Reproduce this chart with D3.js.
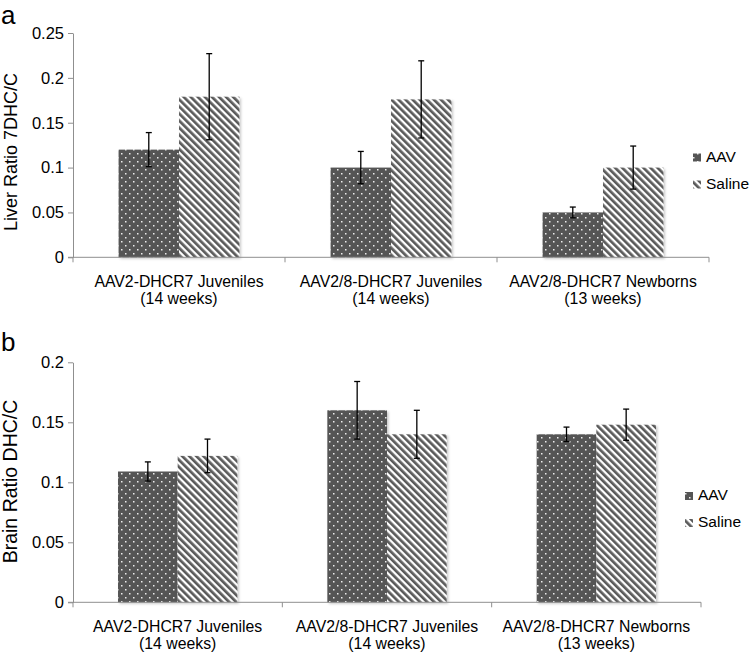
<!DOCTYPE html>
<html><head><meta charset="utf-8">
<script src="https://cdn.jsdelivr.net/npm/d3@7"></script>
<style>
html,body{margin:0;padding:0;background:#fff;}
text{font-family:"Liberation Sans",Arial,Helvetica,sans-serif;fill:#000;}
</style></head>
<body>
<svg id="chart" width="756" height="657"></svg>
<script>
const categories = ["AAV2-DHCR7 Juveniles","AAV2/8-DHCR7 Juveniles","AAV2/8-DHCR7 Newborns"];
const categorySub = ["(14 weeks)","(14 weeks)","(13 weeks)"];
const series = ["AAV","Saline"];

const liverAAV = [0.120, 0.100, 0.050];
const liverAAVErr = [0.019, 0.018, 0.006];
const liverSaline = [0.179, 0.176, 0.100];
const liverSalineErr = [0.048, 0.043, 0.024];

const brainAAV = [0.109, 0.160, 0.140];
const brainAAVErr = [0.008, 0.024, 0.006];
const brainSaline = [0.122, 0.140, 0.148];
const brainSalineErr = [0.014, 0.020, 0.013];

const liverTicks = [0, 0.05, 0.1, 0.15, 0.2, 0.25];
const brainTicks = [0, 0.05, 0.1, 0.15, 0.2];

const svg = d3.select("#chart");
const defs = svg.append("defs");

// dotted pattern (AAV)
const pd = defs.append("pattern").attr("id","dots").attr("patternUnits","userSpaceOnUse")
  .attr("width",8).attr("height",8);
pd.append("rect").attr("width",8).attr("height",8).attr("fill","#555555");
pd.append("rect").attr("x",1).attr("y",1).attr("width",1.5).attr("height",1.5).attr("fill","#ececec");
pd.append("rect").attr("x",5).attr("y",5).attr("width",1.5).attr("height",1.5).attr("fill","#ececec");

// diagonal stripes (Saline)
const ps = defs.append("pattern").attr("id","stripes").attr("patternUnits","userSpaceOnUse")
  .attr("width",5).attr("height",10).attr("patternTransform","rotate(-45)");
ps.append("rect").attr("width",5).attr("height",10).attr("fill","#ffffff");
ps.append("rect").attr("width",2.7).attr("height",10).attr("fill","#5a5a5a");

const f = defs.append("filter").attr("id","shadow").attr("x","-10%").attr("y","-10%").attr("width","130%").attr("height","130%");
f.append("feDropShadow").attr("dx",1.5).attr("dy",1.5).attr("stdDeviation",1).attr("flood-color","#000").attr("flood-opacity",0.22);

const fills = {AAV:"url(#dots)", Saline:"url(#stripes)"};

function panel(cfg){
  const g = svg.append("g");
  const x0 = d3.scaleBand().domain(categories).range([cfg.left, cfg.right]).paddingInner(0.43).paddingOuter(0.215);
  const x1 = d3.scaleBand().domain(series).range([0, x0.bandwidth()]);
  const y = d3.scaleLinear().domain(cfg.domain).range([cfg.bottom, cfg.top]);

  const rows = categories.map((c,i)=>({cat:c, vals:[
    {s:"AAV", v:cfg.aav[i], e:cfg.aavErr[i]},
    {s:"Saline", v:cfg.sal[i], e:cfg.salErr[i]}]}));

  // bars
  const bg = g.append("g").attr("filter","url(#shadow)");
  rows.forEach(r=>{
    r.vals.forEach(d=>{
      bg.append("rect").attr("x",x0(r.cat)+x1(d.s)).attr("y",y(d.v))
        .attr("width",x1.bandwidth()).attr("height",y(0)-y(d.v)).attr("fill",fills[d.s]);
    });
  });

  // x axis line and boundary ticks
  g.append("line").attr("x1",cfg.left-5).attr("x2",cfg.right).attr("y1",y(0)).attr("y2",y(0))
    .attr("stroke","#8f8f8f").attr("stroke-width",1);
  d3.range(categories.length+1).forEach(i=>{
    const xx = cfg.left + i*x0.step();
    g.append("line").attr("x1",xx).attr("x2",xx).attr("y1",y(0)).attr("y2",y(0)+5)
      .attr("stroke","#8f8f8f").attr("stroke-width",1);
  });

  // y axis
  const ya = g.append("g").attr("transform",`translate(${cfg.left},0)`)
    .call(d3.axisLeft(y).tickValues(cfg.ticks).tickFormat(d3.format("")).tickSize(5).tickPadding(4).tickSizeOuter(0));
  ya.select(".domain").attr("stroke","#8f8f8f");
  ya.selectAll(".tick line").attr("stroke","#8f8f8f");
  ya.selectAll(".tick text").attr("font-size","16.5px").attr("fill","#000")
    .attr("font-family","'Liberation Sans',Arial,Helvetica,sans-serif");

  // error bars
  rows.forEach(r=>{
    r.vals.forEach(d=>{
      const cx = x0(r.cat)+x1(d.s)+x1.bandwidth()/2;
      const eg = g.append("g").attr("stroke","#000").attr("stroke-width",1.3);
      eg.append("line").attr("x1",cx).attr("x2",cx).attr("y1",y(d.v+d.e)).attr("y2",y(d.v-d.e));
      eg.append("line").attr("x1",cx-3).attr("x2",cx+3).attr("y1",y(d.v+d.e)).attr("y2",y(d.v+d.e));
      eg.append("line").attr("x1",cx-3).attr("x2",cx+3).attr("y1",y(d.v-d.e)).attr("y2",y(d.v-d.e));
    });
  });

  // category labels
  categories.forEach((c,i)=>{
    const cx = x0(c)+x0.bandwidth()/2;
    g.append("text").attr("x",cx).attr("y",y(0)+30).attr("text-anchor","middle").attr("font-size","15.8px").text(c);
    g.append("text").attr("x",cx).attr("y",y(0)+47).attr("text-anchor","middle").attr("font-size","15.8px").text(categorySub[i]);
  });

  // y title
  g.append("text").attr("transform",`translate(17,${cfg.titleY}) rotate(-90)`).attr("text-anchor","middle")
    .attr("font-size",cfg.titleSize).text(cfg.title);

  // panel letter
  g.append("text").attr("x",1).attr("y",cfg.letterY).attr("font-size","26px").text(cfg.letter);

  // legend
  series.forEach((s,i)=>{
    const ly = cfg.legendY + i*27;
    g.append("rect").attr("x",cfg.legendX).attr("y",ly-8).attr("width",8).attr("height",8).attr("fill",fills[s]);
    g.append("text").attr("x",cfg.legendX+13).attr("y",ly).attr("font-size","15.5px").text(s);
  });
}

panel({left:73, right:709, top:33, bottom:257.3, domain:[0,0.25], ticks:liverTicks,
  aav:liverAAV, aavErr:liverAAVErr, sal:liverSaline, salErr:liverSalineErr,
  title:"Liver Ratio 7DHC/C", titleY:152, titleSize:"18px", letter:"a", letterY:24,
  legendX:693, legendY:161.5});

panel({left:73, right:701, top:362.3, bottom:602.3, domain:[0,0.2], ticks:brainTicks,
  aav:brainAAV, aavErr:brainAAVErr, sal:brainSaline, salErr:brainSalineErr,
  title:"Brain Ratio DHC/C", titleY:481.5, titleSize:"19.5px", letter:"b", letterY:351,
  legendX:685, legendY:500});
</script>
</body></html>
